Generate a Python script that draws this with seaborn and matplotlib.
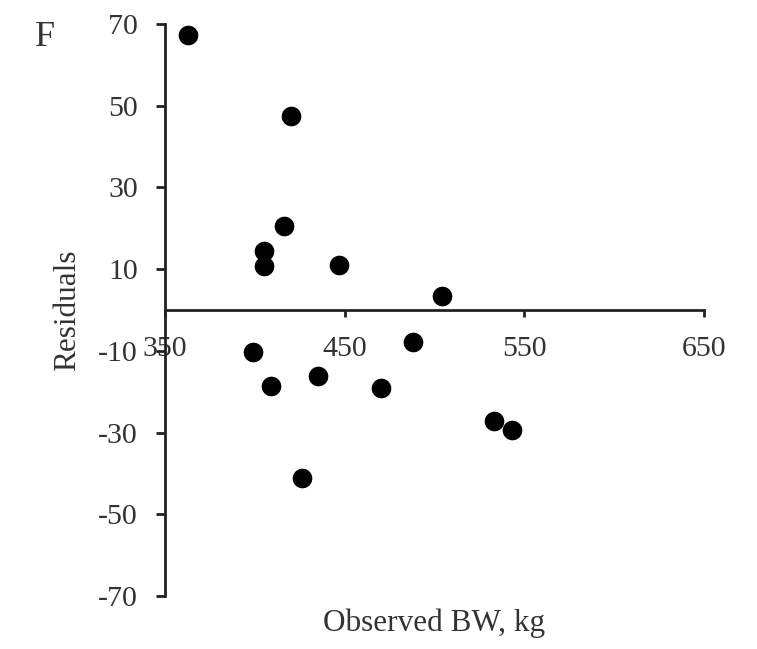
import matplotlib
matplotlib.use("Agg")
import matplotlib.pyplot as plt
import seaborn as sns
import pandas as pd

# Observed body weight (kg) and model residuals
observed_bw = [363, 420, 416, 405, 405, 447, 504, 488, 399, 409, 435, 470, 426, 533, 543]
residuals = [67.3, 47.5, 20.6, 14.5, 10.8, 11.0, 3.5, -7.9, -10.4, -18.6, -16.2, -19.2, -41.2, -27.1, -29.4]

x_ticks = [350, 450, 550, 650]
y_ticks = [-70, -50, -30, -10, 10, 30, 50, 70]

panel_label = "F"
x_label = "Observed BW, kg"
y_label = "Residuals"

sns.set_style("white")
plt.rcParams["font.family"] = ["Liberation Serif", "DejaVu Serif"]

text_color = "#333333"
axis_color = "#222222"

df = pd.DataFrame({"bw": observed_bw, "res": residuals})

fig = plt.figure(figsize=(7.57, 6.49), dpi=100)
ax = fig.add_axes([0.218, 0.0817, 0.712, 0.8814])

sns.scatterplot(data=df, x="bw", y="res", ax=ax, color="black",
                s=200, edgecolor="black", linewidth=0, zorder=3)

ax.set_xlim(350, 650)
ax.set_ylim(-70, 70)
ax.set_xticks(x_ticks)
ax.set_yticks(y_ticks)
ax.set_xticklabels([str(v) for v in x_ticks])
ax.set_yticklabels([str(v) for v in y_ticks])

# Axis lines: y on the left, x crossing at zero
for side in ("top", "right"):
    ax.spines[side].set_visible(False)
ax.spines["bottom"].set_position(("data", 0))
for side in ("left", "bottom"):
    ax.spines[side].set_linewidth(2.0)
    ax.spines[side].set_color(axis_color)
    ax.spines[side].set_zorder(2)

ax.tick_params(axis="y", direction="out", length=6.5, width=2.0, color=axis_color,
               pad=13, labelsize=21.5, labelcolor=text_color, left=True)
ax.tick_params(axis="x", direction="out", length=5, width=2.0, color=axis_color,
               pad=14, labelsize=21.5, labelcolor=text_color, bottom=True)

ax.set_xlabel(x_label, fontsize=22.5, color=text_color, va="center")
ax.xaxis.set_label_coords(0.5, -0.047)
ax.set_ylabel(y_label, fontsize=22.5, color=text_color, va="center")
ax.yaxis.set_label_coords(-0.18, 0.5)

fig.text(45 / 757, 1 - 37 / 649, panel_label, fontsize=26, color=text_color,
         ha="center", va="center")

fig.savefig("out.png", dpi=100, facecolor="white")
